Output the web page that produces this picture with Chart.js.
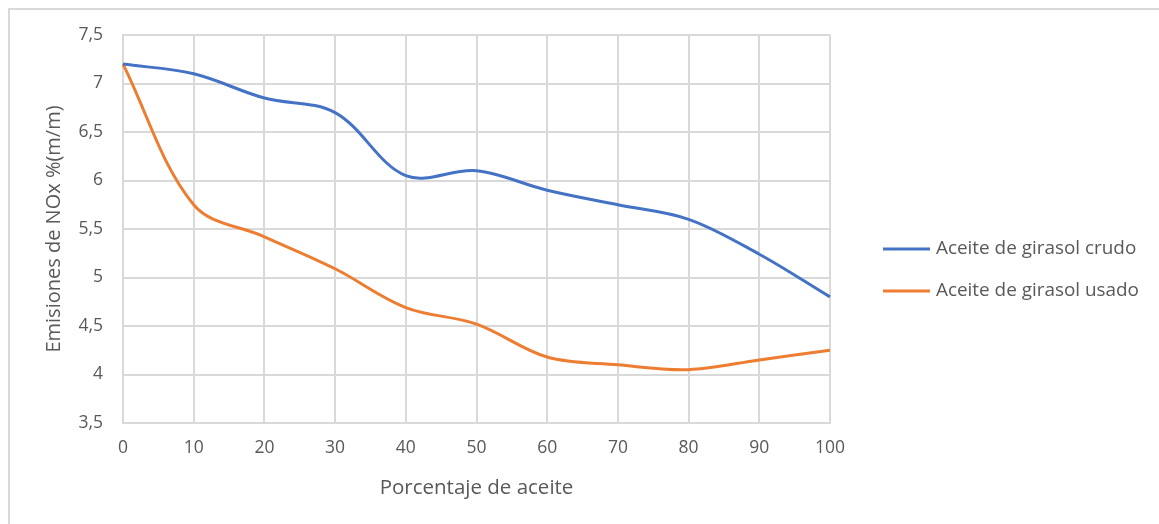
<!DOCTYPE html>
<html>
<head>
<meta charset="utf-8">
<script src="https://cdn.jsdelivr.net/npm/chart.js@4/dist/chart.umd.min.js"></script>
<style>
html,body{margin:0;padding:0;background:#fff;}
#wrap{width:1159px;height:524px;position:relative;}
</style>
</head>
<body>
<div id="wrap"><canvas id="c" width="1159" height="524"></canvas></div>
<script>
const categories = ['0','10','20','30','40','50','60','70','80','90','100'];
const crudo = [7.2, 7.1, 6.85, 6.7, 6.05, 6.1, 5.9, 5.75, 5.6, 5.24, 4.8];
const usado = [7.2, 5.75, 5.42, 5.09, 4.69, 4.52, 4.18, 4.1, 4.05, 4.15, 4.25];
const seriesNames = ['Aceite de girasol crudo', 'Aceite de girasol usado'];
const seriesColors = ['#4472C4', '#ED7D31'];
const xTitle = 'Porcentaje de aceite';
const yTitle = 'Emisiones de NOx %(m/m)';
const yMin = 3.5, yMax = 7.5, yStep = 0.5;

const FONT = "'Open Sans', 'Liberation Sans', sans-serif";
const TEXT = '#595959';
const GRID = '#d9d9d9';

const framePlugin = {
  id: 'frame',
  beforeDraw(chart) {
    const ctx = chart.ctx;
    ctx.save();
    ctx.fillStyle = '#fff';
    ctx.fillRect(0, 0, chart.width, chart.height);
    ctx.strokeStyle = '#d9d9d9';
    ctx.lineWidth = 2;
    ctx.strokeRect(9, 9, chart.width + 20, chart.height + 20);
    ctx.restore();
  }
};

const legendPlugin = {
  id: 'customLegend',
  afterDraw(chart) {
    const ctx = chart.ctx;
    ctx.save();
    const ys = [249, 291];
    chart.data.datasets.forEach((ds, i) => {
      const y = ys[i];
      ctx.strokeStyle = ds.borderColor;
      ctx.lineWidth = 3;
      ctx.lineCap = 'butt';
      ctx.beginPath();
      ctx.moveTo(883, y);
      ctx.lineTo(930, y);
      ctx.stroke();
      ctx.fillStyle = TEXT;
      ctx.font = "18.9px " + FONT;
      ctx.textBaseline = 'middle';
      ctx.textAlign = 'left';
      ctx.fillText(ds.label, 936, y);
    });
    ctx.restore();
  }
};

new Chart(document.getElementById('c'), {
  type: 'line',
  data: {
    labels: categories,
    datasets: [
      { label: seriesNames[0], data: crudo, borderColor: seriesColors[0], backgroundColor: seriesColors[0], borderWidth: 3, pointRadius: 0, tension: 0.35, fill: false },
      { label: seriesNames[1], data: usado, borderColor: seriesColors[1], backgroundColor: seriesColors[1], borderWidth: 3, pointRadius: 0, tension: 0.35, fill: false }
    ]
  },
  options: {
    responsive: false,
    devicePixelRatio: 1,
    animation: false,
    layout: { padding: { left: 0, right: 329, top: 35, bottom: 0 } },
    plugins: { legend: { display: false }, tooltip: { enabled: false } },
    scales: {
      x: {
        offset: false,
        grid: { color: GRID, lineWidth: 2, drawTicks: false },
        border: { color: GRID, width: 2 },
        ticks: { color: TEXT, font: { family: FONT, size: 17.5 }, padding: 15, maxRotation: 0 },
        title: { display: true, text: xTitle, color: TEXT, font: { family: FONT, size: 20.5 }, padding: { top: 0, bottom: 24 } },
        afterFit(s) { s.height = 101; }
      },
      y: {
        min: yMin, max: yMax,
        grid: { color: GRID, lineWidth: 2, drawTicks: false },
        border: { color: GRID, width: 2 },
        ticks: { stepSize: yStep, color: TEXT, font: { family: FONT, size: 17.5 }, padding: 20,
          callback: v => String(v).replace('.', ',') },
        title: { display: true, text: yTitle, color: TEXT, font: { family: FONT, size: 20 }, padding: { top: 42, bottom: 0 } },
        afterFit(s) { s.width = 123; }
      }
    }
  },
  plugins: [framePlugin, legendPlugin]
});
</script>
</body>
</html>
